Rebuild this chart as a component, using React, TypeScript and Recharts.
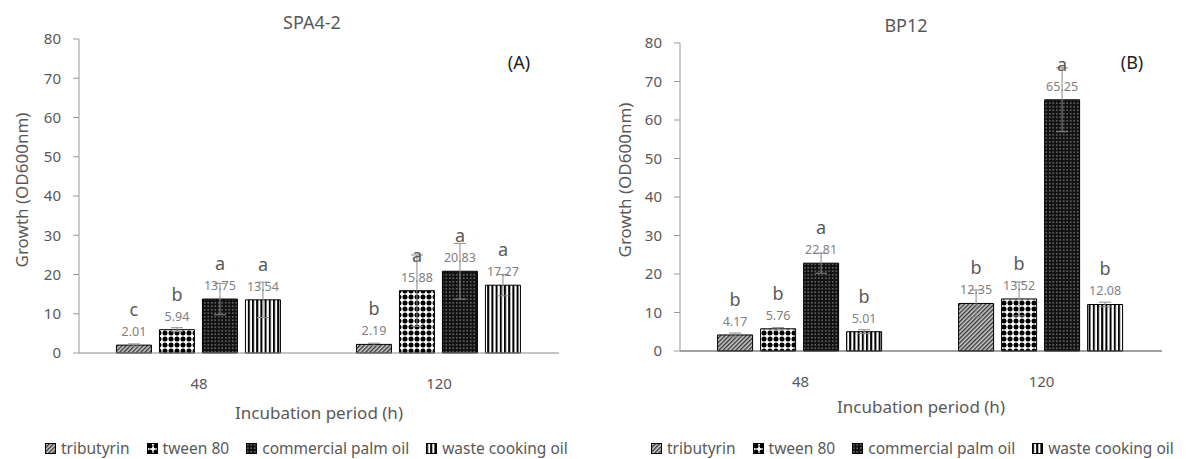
import React from 'react';
import { BarChart, Bar, XAxis, YAxis, ErrorBar, LabelList, Legend, Label } from 'recharts';

const categories = ['48', '120'];
const seriesNames = ['tributyrin', 'tween 80', 'commercial palm oil', 'waste cooking oil'];
const yTicks = [0, 10, 20, 30, 40, 50, 60, 70, 80];

// SPA4-2 (A)
const spaTributyrin = [2.01, 2.19];
const spaTween80 = [5.94, 15.88];
const spaPalmOil = [13.75, 20.83];
const spaWasteOil = [13.54, 17.27];
const spaTributyrinErr = [0.3, 0.3];
const spaTween80Err = [0.5, 9.1];
const spaPalmOilErr = [4.0, 7.1];
const spaWasteOilErr = [4.5, 2.7];
const spaTributyrinSig = ['c', 'b'];
const spaTween80Sig = ['b', 'a'];
const spaPalmOilSig = ['a', 'a'];
const spaWasteOilSig = ['a', 'a'];

// BP12 (B)
const bpTributyrin = [4.17, 12.35];
const bpTween80 = [5.76, 13.52];
const bpPalmOil = [22.81, 65.25];
const bpWasteOil = [5.01, 12.08];
const bpTributyrinErr = [0.5, 3.5];
const bpTween80Err = [0.3, 4.4];
const bpPalmOilErr = [2.6, 8.3];
const bpWasteOilErr = [0.5, 0.6];
const bpTributyrinSig = ['b', 'b'];
const bpTween80Sig = ['b', 'b'];
const bpPalmOilSig = ['a', 'a'];
const bpWasteOilSig = ['b', 'b'];

const FONT = '"Noto Sans", "DejaVu Sans", sans-serif';
const TEXT = '#595959';

function buildRows(values: number[][], errors: number[][], sig: string[][]) {
  return categories.map((c, i) => {
    const row: Record<string, any> = { period: c };
    values.forEach((arr, s) => {
      row[`v${s}`] = arr[i];
      row[`e${s}`] = errors[s][i];
      row[`s${s}`] = sig[s][i];
    });
    return row;
  });
}

const spaRows = buildRows(
  [spaTributyrin, spaTween80, spaPalmOil, spaWasteOil],
  [spaTributyrinErr, spaTween80Err, spaPalmOilErr, spaWasteOilErr],
  [spaTributyrinSig, spaTween80Sig, spaPalmOilSig, spaWasteOilSig]
);
const bpRows = buildRows(
  [bpTributyrin, bpTween80, bpPalmOil, bpWasteOil],
  [bpTributyrinErr, bpTween80Err, bpPalmOilErr, bpWasteOilErr],
  [bpTributyrinSig, bpTween80Sig, bpPalmOilSig, bpWasteOilSig]
);

function Patterns({ prefix }: { prefix: string }) {
  return (
    <defs>
      <pattern id={`${prefix}-0`} width="3" height="3" patternUnits="userSpaceOnUse" patternTransform="rotate(45)">
        <rect width="3" height="3" fill="#cfcfcf" />
        <rect width="1.4" height="3" fill="#333" />
      </pattern>
      <pattern id={`${prefix}-1`} width="6" height="6" patternUnits="userSpaceOnUse">
        <rect width="6" height="6" fill="#fff" />
        <circle cx="3" cy="3" r="2.5" fill="#000" />
      </pattern>
      <pattern id={`${prefix}-2`} width="3.5" height="3.5" patternUnits="userSpaceOnUse">
        <rect width="3.5" height="3.5" fill="#111" />
        <rect x="1.2" y="1.2" width="1.1" height="1.1" fill="#d0d0d0" />
      </pattern>
      <pattern id={`${prefix}-3`} width="4.2" height="4" patternUnits="userSpaceOnUse">
        <rect width="4.2" height="4" fill="#fff" />
        <rect width="2" height="4" fill="#000" />
      </pattern>
    </defs>
  );
}

function LegendContent({ prefix }: { prefix: string }) {
  return (
    <div style={{ display: 'flex', gap: 17, fontSize: 15.5, color: TEXT, fontFamily: FONT, whiteSpace: 'nowrap' }}>
      {seriesNames.map((n, i) => (
        <span key={n} style={{ display: 'flex', alignItems: 'center' }}>
          <svg width={11} height={11} style={{ marginRight: 5 }}>
            <rect x={0.5} y={0.5} width={10} height={10} fill={`url(#${prefix}-${i})`} stroke="#000" />
          </svg>
          {n}
        </span>
      ))}
    </div>
  );
}

type ChartProps = {
  prefix: string;
  rows: Record<string, any>[];
  title: string;
  tag: string;
  margin: { top: number; right: number; bottom: number; left: number };
  yAxisWidth: number;
  titleX: number;
  titleY: number;
  tagX: number;
  xLabelOffset: number;
  yLabelDx: number;
  yLabelDy: number;
  legendLeft: number;
  frameTop: string;
  frameBottom: string;
};

function GrowthChart(p: ChartProps) {
  return (
    <div style={{ position: 'relative', width: 593, height: 459 }}>
      <BarChart
        width={593}
        height={459}
        data={p.rows}
        margin={p.margin}
        barCategoryGap="15.6%"
        barGap={8}
      >
        <Patterns prefix={p.prefix} />
        <XAxis
          dataKey="period"
          height={80}
          tickSize={0}
          tickMargin={25}
          axisLine={{ stroke: p.frameBottom }}
          tick={{ fill: TEXT, fontSize: 15, fontFamily: FONT }}
        >
          <Label
            value="Incubation period (h)"
            position="insideTop"
            offset={p.xLabelOffset}
            style={{ fill: TEXT, fontSize: 17, fontFamily: FONT }}
          />
        </XAxis>
        <XAxis
          xAxisId="top"
          orientation="top"
          dataKey="period"
          height={0}
          tick={false}
          tickLine={false}
          axisLine={{ stroke: p.frameTop }}
        />
        <YAxis
          domain={[0, 80]}
          ticks={yTicks}
          width={p.yAxisWidth}
          tickSize={6}
          tickMargin={12}
          axisLine={{ stroke: '#9a9a9a' }}
          tickLine={{ stroke: '#9a9a9a' }}
          tick={{ fill: TEXT, fontSize: 15, fontFamily: FONT }}
        >
          <Label
            value="Growth (OD600nm)"
            angle={-90}
            position="center"
            dx={p.yLabelDx}
            dy={p.yLabelDy}
            style={{ fill: TEXT, fontSize: 17, fontFamily: FONT, textAnchor: 'middle' }}
          />
        </YAxis>
        <YAxis
          yAxisId="right"
          orientation="right"
          domain={[0, 80]}
          width={0}
          tick={false}
          tickLine={false}
          axisLine={{ stroke: '#9a9a9a' }}
        />
        <Legend
          layout="horizontal"
          verticalAlign="middle"
          align="center"
          content={() => <LegendContent prefix={p.prefix} />}
          wrapperStyle={{ top: 437, left: p.legendLeft, bottom: 'auto', width: 'auto', height: 'auto' }}
        />
        {seriesNames.map((n, i) => (
          <Bar
            key={n}
            dataKey={`v${i}`}
            name={n}
            fill={`url(#${p.prefix}-${i})`}
            stroke="#000"
            strokeWidth={1}
            isAnimationActive={false}
          >
            <ErrorBar dataKey={`e${i}`} width={6} stroke="#8a8a8a" strokeWidth={1} direction="y" />
            <LabelList
              dataKey={`v${i}`}
              position="top"
              offset={9}
              formatter={(v: any) => Number(v).toFixed(2)}
              style={{ fill: '#808080', fontSize: 12.5, fontFamily: FONT }}
            />
            <LabelList
              dataKey={`s${i}`}
              position="top"
              offset={29}
              style={{ fill: TEXT, fontSize: 18, fontFamily: FONT }}
            />
          </Bar>
        ))}
      </BarChart>
      <div
        style={{
          position: 'absolute', left: p.titleX - 100, width: 200, top: p.titleY - 12, textAlign: 'center',
          fontSize: 18, color: TEXT, fontFamily: FONT, lineHeight: '24px',
        }}
      >
        {p.title}
      </div>
      <div
        style={{
          position: 'absolute', left: p.tagX - 30, width: 60, top: 50, textAlign: 'center',
          fontSize: 18, color: '#222', fontFamily: FONT, lineHeight: '24px',
        }}
      >
        {p.tag}
      </div>
    </div>
  );
}

export default function App() {
  return (
    <div style={{ position: 'absolute', left: 0, top: 0, width: 1186, height: 459, background: '#fff', overflow: 'hidden' }}>
      <div style={{ position: 'absolute', left: 0, top: 0 }}>
        <GrowthChart
          prefix="pa"
          rows={spaRows}
          title="SPA4-2"
          tag="(A)"
          margin={{ top: 39, right: 34, bottom: 26, left: 0 }}
          yAxisWidth={79}
          titleX={312}
          titleY={22}
          tagX={519}
          xLabelOffset={54}
          yLabelDx={-18}
          yLabelDy={-6}
          legendLeft={45}
          frameTop="#9a9a9a"
          frameBottom="#8a8a8a"
        />
      </div>
      <div style={{ position: 'absolute', left: 593, top: 0 }}>
        <GrowthChart
          prefix="pb"
          rows={bpRows}
          title="BP12"
          tag="(B)"
          margin={{ top: 43, right: 24, bottom: 28, left: 0 }}
          yAxisWidth={87}
          titleX={313}
          titleY={25}
          tagX={539}
          xLabelOffset={50}
          yLabelDx={-12}
          yLabelDy={-17}
          legendLeft={58}
          frameTop="#222"
          frameBottom="#444"
        />
      </div>
    </div>
  );
}
